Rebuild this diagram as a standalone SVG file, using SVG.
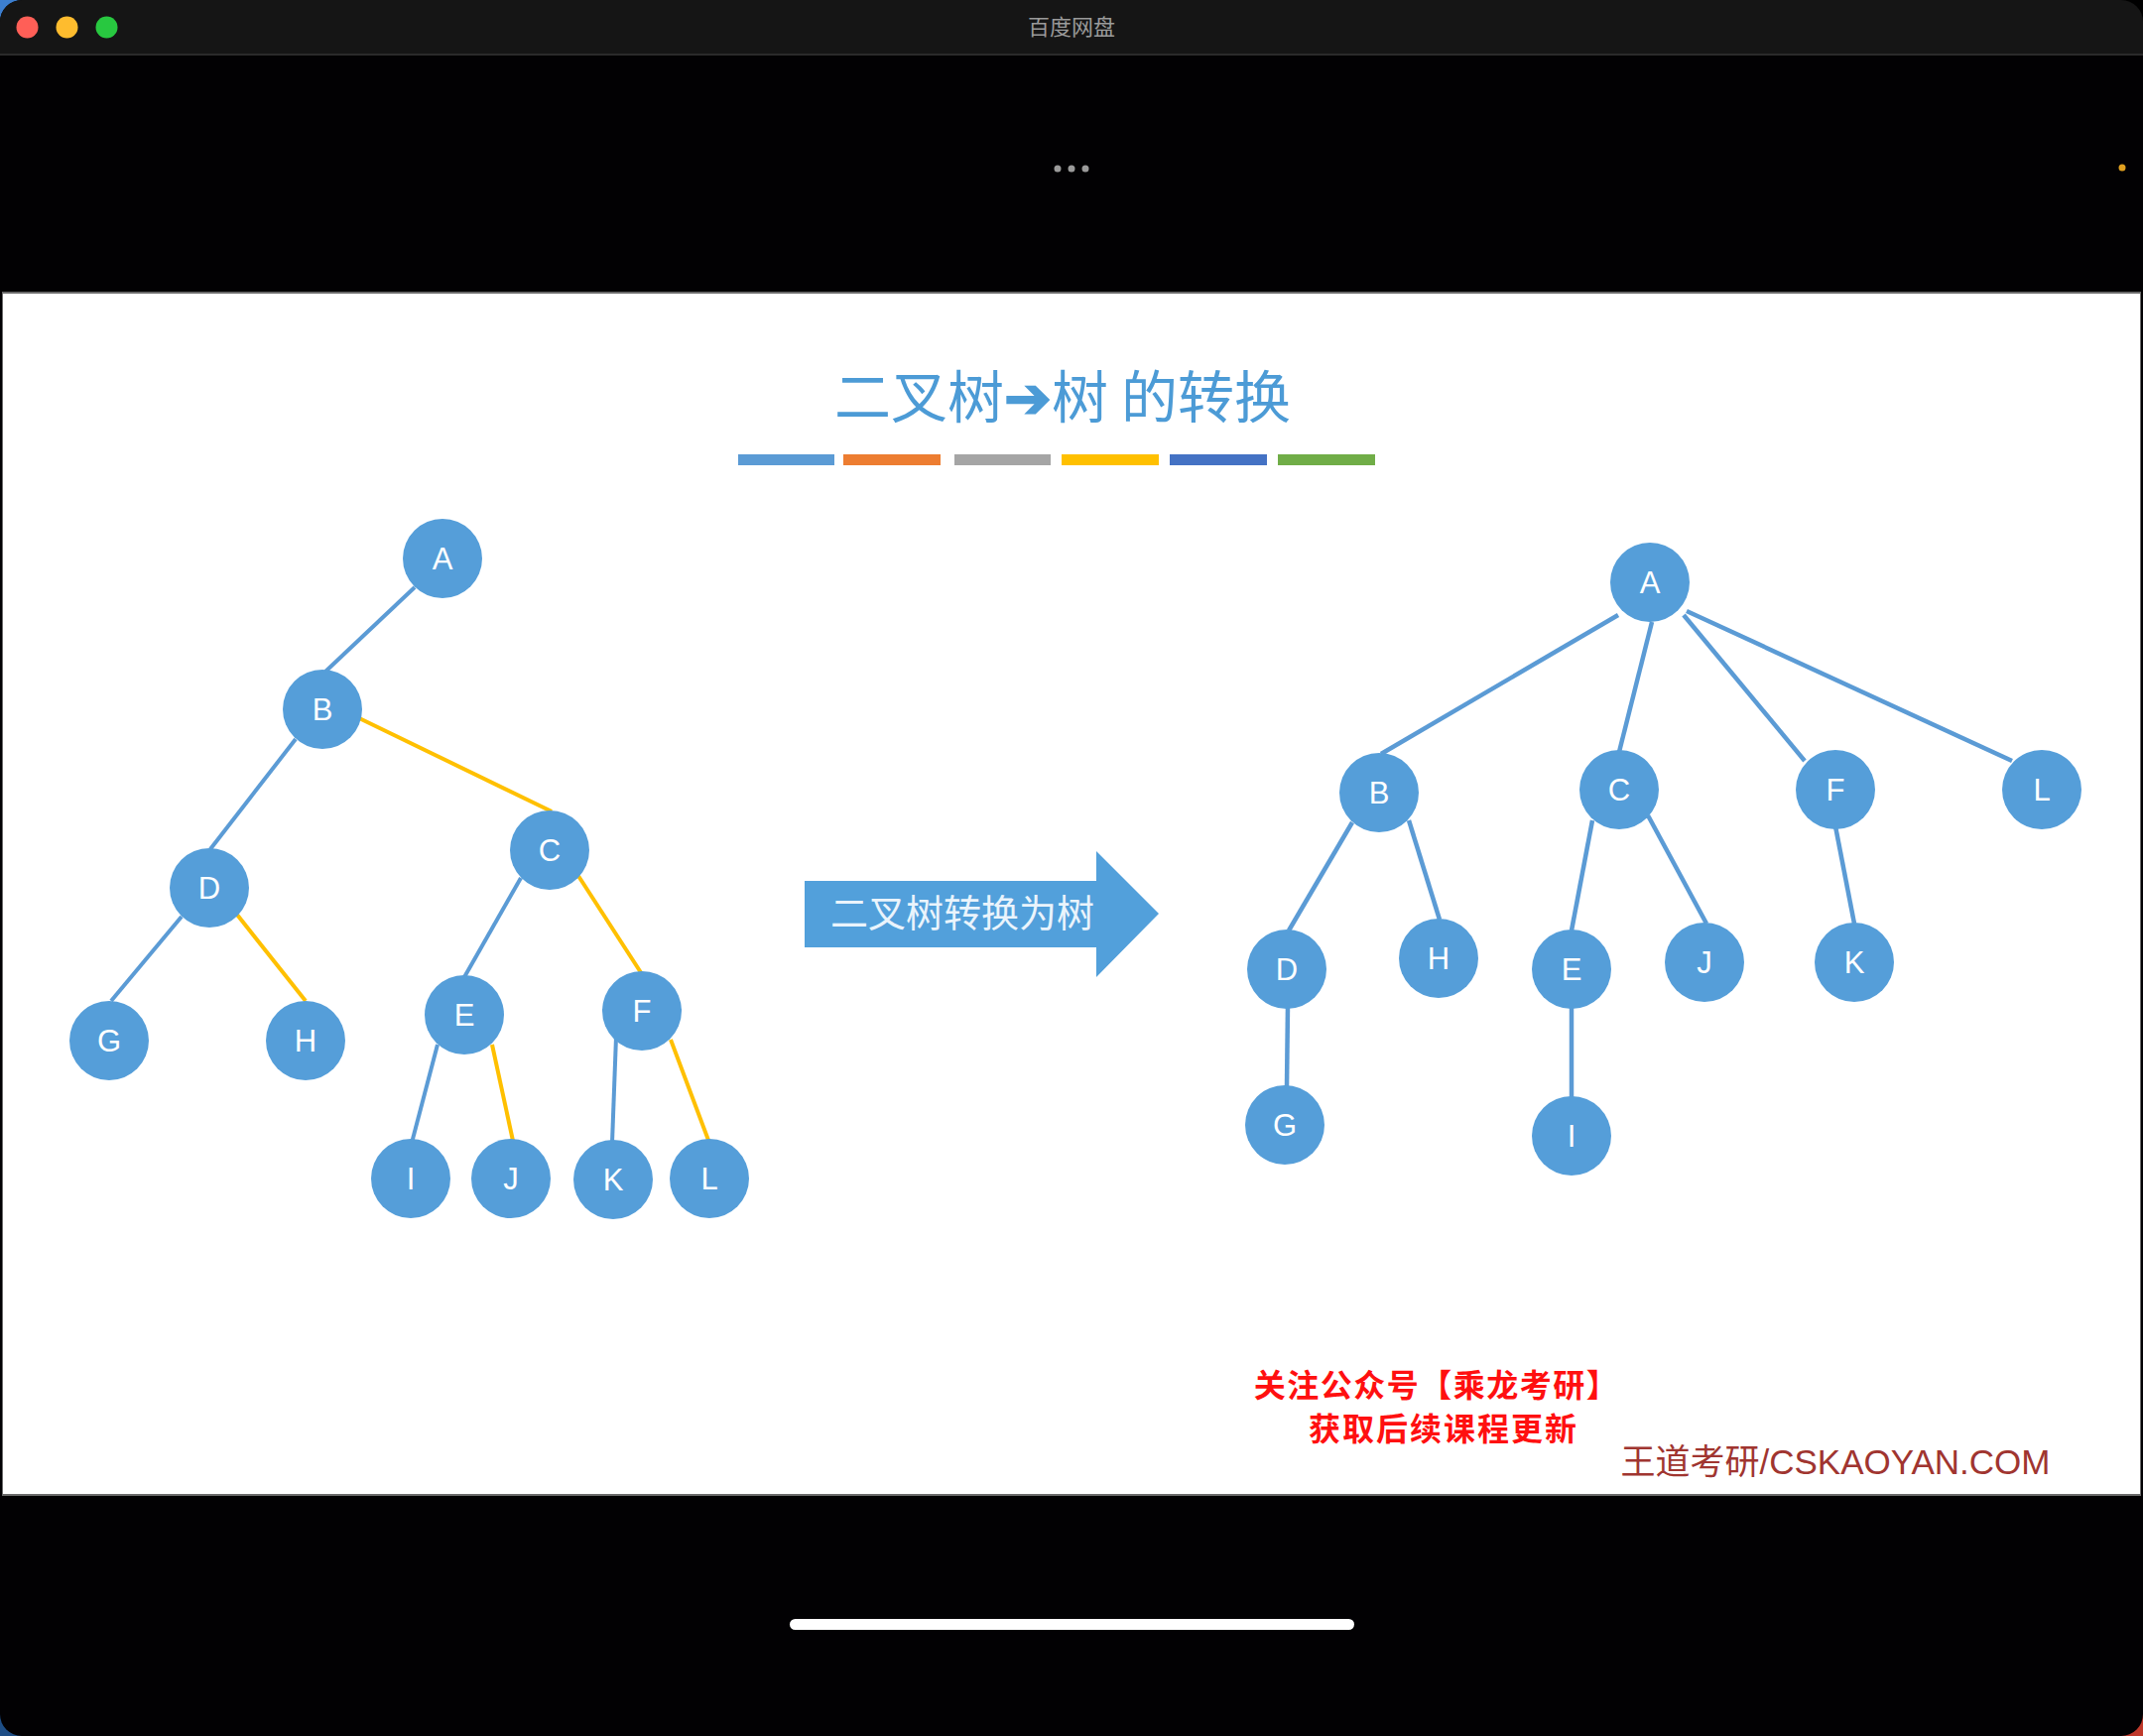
<svg xmlns="http://www.w3.org/2000/svg" width="2160" height="1750" viewBox="0 0 2160 1750">
<style>
.node circle{fill:#559ED9}
.node text{fill:#ffffff;font-family:"Liberation Sans",Arial,sans-serif;font-size:31px;text-anchor:middle}
.eb{stroke:#5B9BD5;stroke-width:4;fill:none}
.ey{stroke:#FFC000;stroke-width:4;fill:none}
.er{stroke:#5B9BD5;stroke-width:4.5;fill:none}
.cjk{font-family:"Noto Sans CJK SC","Liberation Sans",sans-serif}
</style>
<!-- desktop corners -->
<rect x="0" y="0" width="2160" height="1750" fill="#000"/>
<rect x="0" y="0" width="30" height="30" fill="#3C7FD0"/>
<rect x="0" y="1720" width="30" height="30" fill="#1E4E86"/>
<rect x="2130" y="1720" width="30" height="30" fill="#C0392B"/>
<!-- window -->
<rect x="0" y="0" width="2160" height="1750" rx="22" ry="22" fill="#020103"/>
<path d="M0,22 A22,22 0 0 1 22,0 H2138 A22,22 0 0 1 2160,22 V54 H0 Z" fill="#151515"/>
<rect x="0" y="54" width="2160" height="2" fill="#2a2a2a"/>
<circle cx="27.5" cy="27.5" r="11" fill="#FF5F57"/>
<circle cx="67.5" cy="27.5" r="11" fill="#FEBC2E"/>
<circle cx="107.5" cy="27.5" r="11" fill="#28C840"/>
<text x="1080" y="35" class="cjk" font-size="22" fill="#9a9a9a" text-anchor="middle">百度网盘</text>
<circle cx="1066" cy="170" r="3.5" fill="#9a9a9a"/>
<circle cx="1080" cy="170" r="3.5" fill="#9a9a9a"/>
<circle cx="1094" cy="170" r="3.5" fill="#9a9a9a"/>
<circle cx="2139" cy="169" r="3.5" fill="#E0A020"/>
<!-- slide -->
<rect x="2" y="294" width="2156" height="1214" fill="#6a6a6a"/>
<rect x="3" y="296" width="2154" height="1210" fill="#ffffff"/>
<!-- home bar -->
<rect x="796" y="1632" width="569" height="11" rx="5.5" fill="#ffffff"/>
<!-- title -->
<text x="1071" y="421" class="cjk" font-size="57" fill="#4C9BD6" text-anchor="middle">二叉树<tspan font-weight="bold" font-family="Liberation Sans,sans-serif">➔</tspan>树 的转换</text>
<g id="colorbars">
<rect x="744" y="458" width="97" height="11" fill="#5B9BD5"/>
<rect x="850" y="458" width="98" height="11" fill="#ED7D31"/>
<rect x="962" y="458" width="97" height="11" fill="#A5A5A5"/>
<rect x="1070" y="458" width="98" height="11" fill="#FFC000"/>
<rect x="1179" y="458" width="98" height="11" fill="#4472C4"/>
<rect x="1288" y="458" width="98" height="11" fill="#70AD47"/>
</g>
<!-- left tree connectors -->
<g id="connectors-left">
<line class="eb" x1="418" y1="592" x2="328" y2="677"/>
<line class="eb" x1="298" y1="745" x2="212" y2="856"/>
<line class="ey" x1="360" y1="723" x2="556" y2="818"/>
<line class="eb" x1="183" y1="924" x2="112" y2="1009"/>
<line class="ey" x1="239" y1="922" x2="308" y2="1009"/>
<line class="eb" x1="525" y1="885" x2="468" y2="985"/>
<line class="ey" x1="583" y1="883" x2="647" y2="982"/>
<line class="eb" x1="441" y1="1053" x2="415" y2="1152"/>
<line class="ey" x1="496" y1="1053" x2="517" y2="1150"/>
<line class="eb" x1="621" y1="1045" x2="617" y2="1152"/>
<line class="ey" x1="676" y1="1048" x2="715" y2="1152"/>
</g>
<g id="L-A" class="node"><circle cx="446" cy="563" r="40"/><text x="446" y="574">A</text></g>
<g id="L-B" class="node"><circle cx="325" cy="715" r="40"/><text x="325" y="726">B</text></g>
<g id="L-C" class="node"><circle cx="554" cy="857" r="40"/><text x="554" y="868">C</text></g>
<g id="L-D" class="node"><circle cx="211" cy="895" r="40"/><text x="211" y="906">D</text></g>
<g id="L-E" class="node"><circle cx="468" cy="1023" r="40"/><text x="468" y="1034">E</text></g>
<g id="L-F" class="node"><circle cx="647" cy="1019" r="40"/><text x="647" y="1030">F</text></g>
<g id="L-G" class="node"><circle cx="110" cy="1049" r="40"/><text x="110" y="1060">G</text></g>
<g id="L-H" class="node"><circle cx="308" cy="1049" r="40"/><text x="308" y="1060">H</text></g>
<g id="L-I" class="node"><circle cx="414" cy="1188" r="40"/><text x="414" y="1199">I</text></g>
<g id="L-J" class="node"><circle cx="515" cy="1188" r="40"/><text x="515" y="1199">J</text></g>
<g id="L-K" class="node"><circle cx="618" cy="1189" r="40"/><text x="618" y="1200">K</text></g>
<g id="L-L" class="node"><circle cx="715" cy="1188" r="40"/><text x="715" y="1199">L</text></g>
<!-- big arrow -->
<g id="big-arrow">
<path d="M811,888 H1105 V858 L1168,921 L1105,985 V955 H811 Z" fill="#52A0DB"/>
<text x="970" y="934" class="cjk" font-size="38" fill="#EAF4FC" text-anchor="middle">二叉树转换为树</text>
</g>
<!-- right tree connectors -->
<g id="connectors-right">
<line class="er" x1="1631" y1="620" x2="1392" y2="760"/>
<line class="er" x1="1665" y1="627" x2="1632" y2="758"/>
<line class="er" x1="1697" y1="620" x2="1819" y2="767"/>
<line class="er" x1="1700" y1="616" x2="2028" y2="767"/>
<line class="er" x1="1363" y1="829" x2="1299" y2="938"/>
<line class="er" x1="1420" y1="827" x2="1451" y2="927"/>
<line class="er" x1="1605" y1="827" x2="1584" y2="938"/>
<line class="er" x1="1661" y1="822" x2="1720" y2="931"/>
<line class="er" x1="1850" y1="833" x2="1869" y2="931"/>
<line class="er" x1="1298" y1="1013" x2="1297" y2="1096"/>
<line class="er" x1="1584" y1="1013" x2="1584" y2="1107"/>
</g>
<g id="R-A" class="node"><circle cx="1663" cy="587" r="40"/><text x="1663" y="598">A</text></g>
<g id="R-B" class="node"><circle cx="1390" cy="799" r="40"/><text x="1390" y="810">B</text></g>
<g id="R-C" class="node"><circle cx="1632" cy="796" r="40"/><text x="1632" y="807">C</text></g>
<g id="R-F" class="node"><circle cx="1850" cy="796" r="40"/><text x="1850" y="807">F</text></g>
<g id="R-L" class="node"><circle cx="2058" cy="796" r="40"/><text x="2058" y="807">L</text></g>
<g id="R-D" class="node"><circle cx="1297" cy="977" r="40"/><text x="1297" y="988">D</text></g>
<g id="R-H" class="node"><circle cx="1450" cy="966" r="40"/><text x="1450" y="977">H</text></g>
<g id="R-E" class="node"><circle cx="1584" cy="977" r="40"/><text x="1584" y="988">E</text></g>
<g id="R-J" class="node"><circle cx="1718" cy="970" r="40"/><text x="1718" y="981">J</text></g>
<g id="R-K" class="node"><circle cx="1869" cy="970" r="40"/><text x="1869" y="981">K</text></g>
<g id="R-G" class="node"><circle cx="1295" cy="1134" r="40"/><text x="1295" y="1145">G</text></g>
<g id="R-I" class="node"><circle cx="1584" cy="1145" r="40"/><text x="1584" y="1156">I</text></g>
<!-- footer texts -->
<text x="1448" y="1408" class="cjk" font-size="32" font-weight="bold" fill="#FF1010" text-anchor="middle" letter-spacing="1.5">关注公众号【乘龙考研】</text>
<text x="1455" y="1452" class="cjk" font-size="32" font-weight="bold" fill="#FF1010" text-anchor="middle" letter-spacing="2">获取后续课程更新</text>
<text x="1850" y="1486" font-family="Liberation Sans,Noto Sans CJK SC,sans-serif" font-size="35" fill="#A03530" text-anchor="middle">王道考研/CSKAOYAN.COM</text>
</svg>
